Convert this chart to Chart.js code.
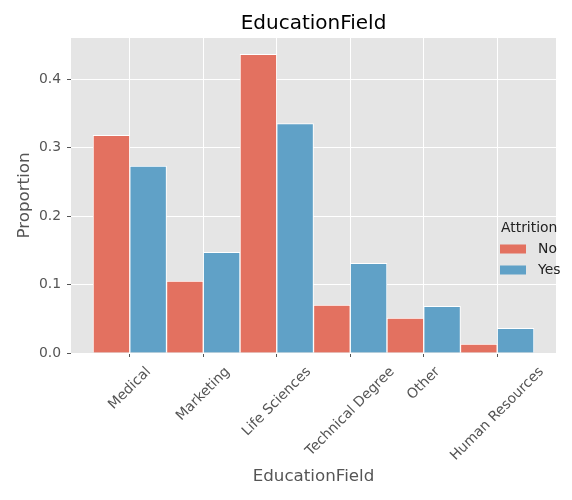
<!DOCTYPE html>
<html>
<head>
<meta charset="utf-8">
<script src="https://cdn.jsdelivr.net/npm/chart.js@4"></script>
<style>
  html, body { margin: 0; padding: 0; background: #fff; }
  #wrap { width: 572px; height: 500px; }
</style>
</head>
<body>
<div id="wrap"><canvas id="chart" width="572" height="500"></canvas></div>
<script>
// data
const categories = ['Medical', 'Marketing', 'Life Sciences', 'Technical Degree', 'Other', 'Human Resources'];
const noValues = [0.318, 0.105, 0.436, 0.070, 0.051, 0.013];
const yesValues = [0.273, 0.147, 0.335, 0.131, 0.068, 0.036];
const yTicks = [0.0, 0.1, 0.2, 0.3, 0.4];
const legendTitle = 'Attrition';
const seriesNames = ['No', 'Yes'];

const FONT = 'DejaVu Sans';
const RED = 'rgb(227,113,96)';
const BLUE = 'rgb(96,161,199)';

// grey panel behind the plot
const panelBg = {
  id: 'panelBg',
  beforeDraw(chart) {
    const { ctx, chartArea: a } = chart;
    ctx.save();
    ctx.fillStyle = '#E5E5E5';
    ctx.fillRect(a.left, a.top, a.right - a.left, a.bottom - a.top);
    ctx.restore();
  }
};

// title, rotated category labels and legend (matplotlib style)
const extras = {
  id: 'extras',
  afterDraw(chart) {
    const { ctx, chartArea: a } = chart;
    const xs = chart.scales.x;
    ctx.save();

    // title
    ctx.fillStyle = '#000';
    ctx.font = '20px "' + FONT + '"';
    ctx.textAlign = 'center';
    ctx.textBaseline = 'middle';
    ctx.fillText('EducationField', (a.left + a.right) / 2, 24);

    // x labels, rotated 45 deg, centered under each tick
    ctx.font = '13.9px "' + FONT + '"';
    ctx.fillStyle = '#555';
    categories.forEach((c, i) => {
      const x = xs.getPixelForValue(i);
      const w = ctx.measureText(c).width;
      const cy = a.bottom + 12 + (w + 13) * 0.3536;
      ctx.save();
      ctx.translate(x, cy);
      ctx.rotate(-Math.PI / 4);
      ctx.fillText(c, 0, 0);
      ctx.restore();
    });

    // legend
    ctx.fillStyle = '#222';
    ctx.textAlign = 'left';
    ctx.fillText(legendTitle, 501, 228);
    const colors = [RED, BLUE];
    seriesNames.forEach((n, i) => {
      const y = 249 + i * 21;
      ctx.fillStyle = colors[i];
      ctx.fillRect(500, y - 4.5, 26, 9);
      ctx.fillStyle = '#222';
      ctx.fillText(n, 538, y);
    });
    ctx.restore();
  }
};

const ctx = document.getElementById('chart').getContext('2d');
new Chart(ctx, {
  type: 'bar',
  data: {
    datasets: [
      {
        label: seriesNames[0],
        data: noValues.map((v, i) => ({ x: i, y: v })),
        backgroundColor: RED,
        borderColor: '#fff',
        borderWidth: 1,
        categoryPercentage: 1,
        barPercentage: 1
      },
      {
        label: seriesNames[1],
        data: yesValues.map((v, i) => ({ x: i, y: v })),
        backgroundColor: BLUE,
        borderColor: '#fff',
        borderWidth: 1,
        categoryPercentage: 1,
        barPercentage: 1
      }
    ]
  },
  options: {
    responsive: false,
    animation: false,
    devicePixelRatio: 1,
    layout: { padding: { top: 38, right: 16, left: 0, bottom: 0 } },
    plugins: {
      legend: { display: false },
      title: { display: false },
      tooltip: { enabled: false }
    },
    scales: {
      x: {
        type: 'linear',
        offset: false,
        min: -0.8,
        max: 5.8,
        afterBuildTicks: (scale) => { scale.ticks = categories.map((c, i) => ({ value: i })); },
        afterFit: (scale) => { scale.height = 147; },
        ticks: { display: false },
        grid: { offset: false, color: '#fff', lineWidth: 1, tickColor: '#555', tickLength: 4, drawTicks: true },
        border: { display: false },
        title: {
          display: true,
          text: 'EducationField',
          color: '#555',
          font: { family: FONT, size: 16.7 },
          padding: { top: 0, bottom: 13 }
        }
      },
      y: {
        min: 0,
        max: 0.46,
        afterBuildTicks: (scale) => { scale.ticks = yTicks.map(v => ({ value: v })); },
        afterFit: (scale) => { scale.width = 71; },
        ticks: {
          color: '#555',
          font: { family: FONT, size: 13.9 },
          padding: 6,
          callback: (v) => v.toFixed(1)
        },
        grid: { color: '#fff', lineWidth: 1, tickColor: '#555', tickLength: 4 },
        border: { display: false },
        title: {
          display: true,
          text: 'Proportion',
          color: '#555',
          font: { family: FONT, size: 16.7 },
          padding: { top: 15, bottom: 0 }
        }
      }
    }
  },
  plugins: [panelBg, extras]
});
</script>
</body>
</html>
